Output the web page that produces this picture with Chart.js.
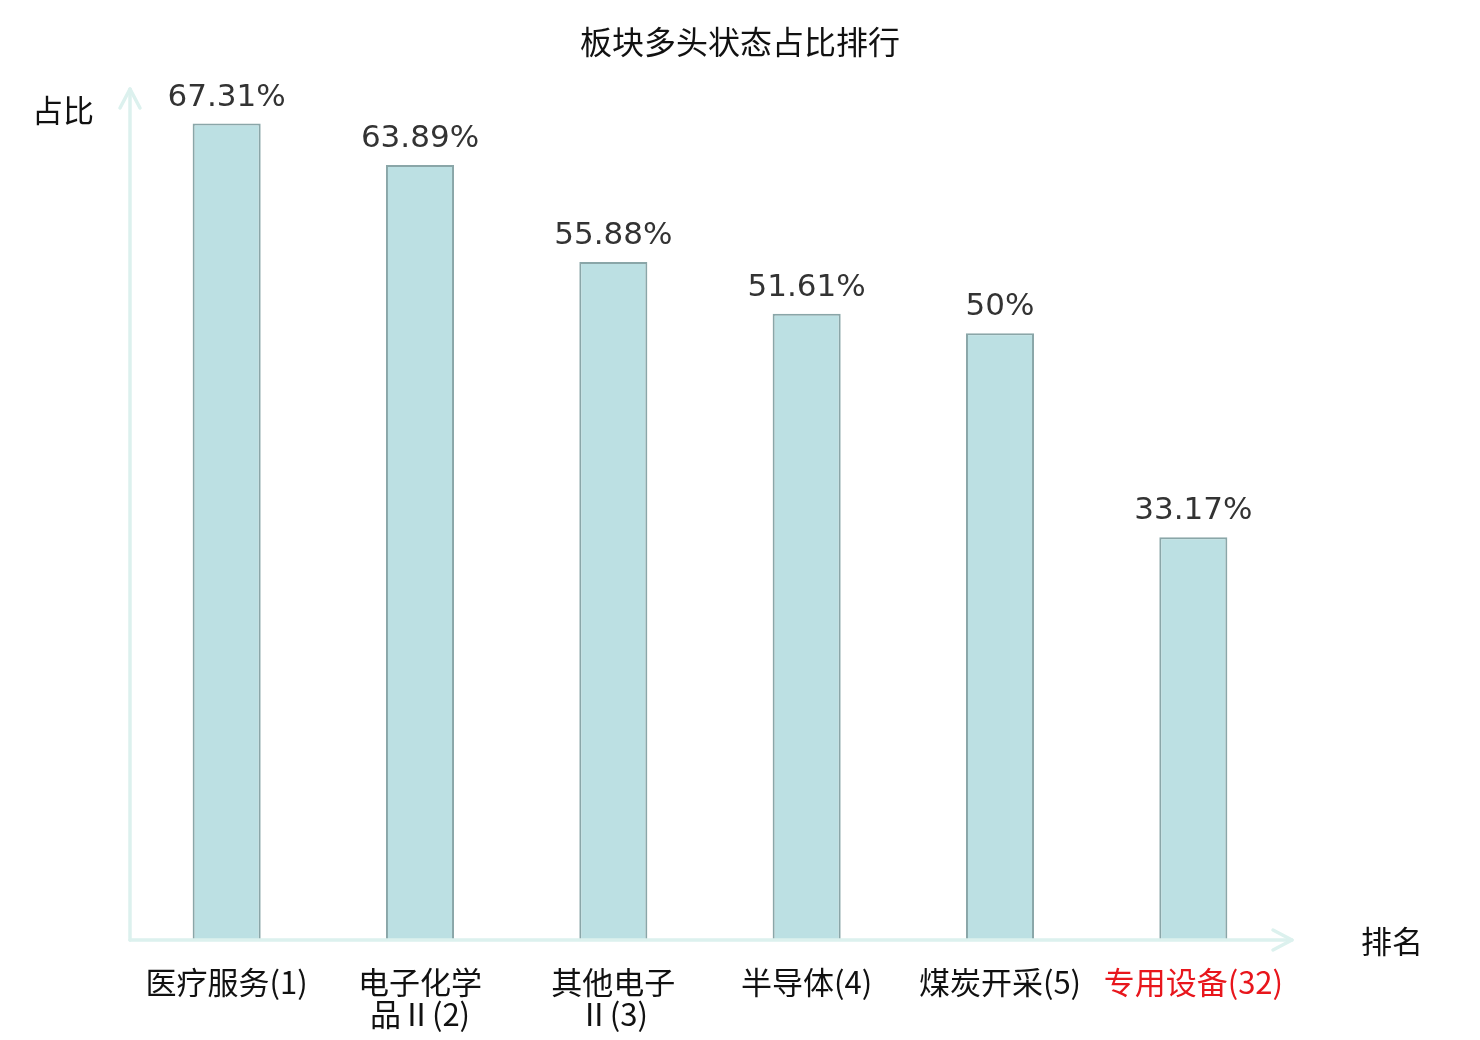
<!DOCTYPE html>
<html>
<head>
<meta charset="utf-8">
<script src="https://cdn.jsdelivr.net/npm/chart.js@4"></script>
<style>
html,body{margin:0;padding:0;background:#fff;}
#wrap{width:1480px;height:1040px;}
</style>
</head>
<body>
<div id="wrap"><canvas id="c" width="1480" height="1040"></canvas></div>
<script>
const categories = [["医疗服务(1)"], ["电子化学", "品Ⅱ(2)"], ["其他电子", "Ⅱ(3)"], ["半导体(4)"], ["煤炭开采(5)"], ["专用设备(32)"]];
const values = [67.31, 63.89, 55.88, 51.61, 50, 33.17];
const valueLabels = ["67.31%", "63.89%", "55.88%", "51.61%", "50%", "33.17%"];
const highlightIndex = [5];
const titleText = "板块多头状态占比排行";
const yAxisTitle = "占比";
const xAxisTitle = "排名";

const AXIS_COLOR = '#dcf1ee';

const decor = {
  id: 'decor',
  afterDatasetsDraw(chart) {
    const ctx = chart.ctx;
    const meta = chart.getDatasetMeta(0);
    ctx.save();
    ctx.fillStyle = '#333333';
    ctx.font = '31px "DejaVu Sans"';
    ctx.textAlign = 'center';
    ctx.textBaseline = 'alphabetic';
    meta.data.forEach((bar, i) => {
      ctx.fillText(valueLabels[i], bar.x, bar.y - 18);
    });
    ctx.restore();
  },
  afterDraw(chart) {
    const ctx = chart.ctx;
    const a = chart.chartArea;
    ctx.save();
    ctx.strokeStyle = AXIS_COLOR;
    ctx.lineWidth = 3.5;
    ctx.lineCap = 'round';
    ctx.lineJoin = 'round';
    // y axis
    ctx.beginPath();
    ctx.moveTo(a.left, a.bottom + 1);
    ctx.lineTo(a.left, a.top - 2);
    ctx.stroke();
    ctx.beginPath();
    ctx.moveTo(a.left - 10, a.top + 17);
    ctx.lineTo(a.left, a.top - 2);
    ctx.lineTo(a.left + 10, a.top + 17);
    ctx.stroke();
    // x axis
    ctx.beginPath();
    ctx.moveTo(a.left, a.bottom + 1);
    ctx.lineTo(a.right + 2, a.bottom + 1);
    ctx.stroke();
    ctx.beginPath();
    ctx.moveTo(a.right - 17, a.bottom - 9);
    ctx.lineTo(a.right + 2, a.bottom + 1);
    ctx.lineTo(a.right - 17, a.bottom + 11);
    ctx.stroke();
    // texts
    ctx.fillStyle = '#111111';
    ctx.textAlign = 'center';
    ctx.textBaseline = 'middle';
    ctx.font = '32px "Noto Sans CJK SC"';
    ctx.fillText(titleText, 740, 42);
    ctx.font = '31px "Noto Sans CJK SC"';
    ctx.fillText(yAxisTitle, 63, 110);
    ctx.fillText(xAxisTitle, 1392, 941);
    ctx.restore();
  }
};

new Chart(document.getElementById('c'), {
  type: 'bar',
  data: {
    labels: categories,
    datasets: [{
      data: values,
      backgroundColor: '#bce0e3',
      borderColor: '#8aa6a8',
      borderWidth: 2,
      barPercentage: 0.352,
      categoryPercentage: 1.0
    }]
  },
  options: {
    responsive: false,
    animation: false,
    devicePixelRatio: 1,
    layout: { padding: { left: 130, right: 190, top: 91, bottom: 0 } },
    plugins: { legend: { display: false }, title: { display: false }, tooltip: { enabled: false } },
    scales: {
      y: { display: false, min: 0, max: 70 },
      x: {
        grid: { display: false, drawTicks: false },
        border: { display: false },
        afterFit(scale) { scale.height = 101; },
        ticks: {
          padding: 27,
          maxRotation: 0,
          autoSkip: false,
          font: { family: '"Noto Sans CJK SC"', size: 31, lineHeight: 1.03 },
          color: (c) => highlightIndex.includes(c.index) ? '#e8161c' : '#111111'
        }
      }
    }
  },
  plugins: [decor]
});
</script>
</body>
</html>
